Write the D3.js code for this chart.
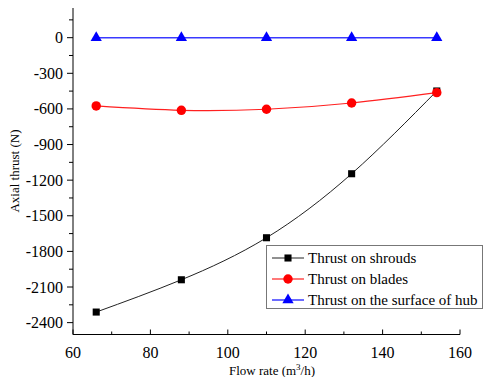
<!DOCTYPE html>
<html><head><meta charset="utf-8">
<script src="https://cdn.jsdelivr.net/npm/d3@7"></script>
<style>body{margin:0;background:#fff}svg{display:block}text{font-family:"Liberation Serif","Times New Roman",serif}</style>
</head><body>
<svg id="c" width="484" height="377"></svg>
<script>
const flowRates = [66, 88, 110, 132, 154];
const shrouds = [-2311, -2039, -1685, -1146, -449];
const blades = [-575, -612, -603, -550, -463];
const hub = [0, 0, 0, 0, 0];
const xTicks = [60, 80, 100, 120, 140, 160];
const yTicks = [0, -300, -600, -900, -1200, -1500, -1800, -2100, -2400];
const seriesNames = ["Thrust on shrouds", "Thrust on blades", "Thrust on the surface of hub"];

const svg = d3.select("#c");
const x = d3.scaleLinear().domain([60, 160]).range([73, 460]);
const y = d3.scaleLinear().domain([-2500, 250]).range([334.5, 8]);

// axes
const xAxis = svg.append("g").attr("transform", "translate(0,334.5)");
xAxis.append("line").attr("x1", 73).attr("x2", 460).attr("stroke", "#000");
xAxis.selectAll(".mj").data(xTicks).join("line").attr("x1", d => x(d)).attr("x2", d => x(d)).attr("y1", 0).attr("y2", -5).attr("stroke", "#000");
xAxis.selectAll(".mn").data(d3.range(70, 160, 20)).join("line").attr("x1", d => x(d)).attr("x2", d => x(d)).attr("y1", 0).attr("y2", -3).attr("stroke", "#000");
xAxis.selectAll("text").data(xTicks).join("text").attr("x", d => x(d)).attr("y", 23.5).attr("text-anchor", "middle").attr("font-size", 16).text(d => d);

const yAxis = svg.append("g").attr("transform", "translate(73,0)");
yAxis.append("line").attr("y1", 8).attr("y2", 334.5).attr("stroke", "#000");
yAxis.selectAll(".mj").data(yTicks).join("line").attr("y1", d => y(d)).attr("y2", d => y(d)).attr("x1", 0).attr("x2", -6).attr("stroke", "#000");
yAxis.selectAll(".mn").data(d3.range(-2250, 250, 300)).join("line").attr("y1", d => y(d)).attr("y2", d => y(d)).attr("x1", 0).attr("x2", -4).attr("stroke", "#000");
yAxis.selectAll("text").data(yTicks).join("text").attr("x", -10).attr("y", d => y(d) + 5.5).attr("text-anchor", "end").attr("font-size", 16).text(d => d);

svg.append("text").attr("x", 272).attr("y", 374.5).attr("text-anchor", "middle").attr("font-size", 13)
  .html('Flow rate (m<tspan baseline-shift="super" font-size="9">3</tspan>/h)');
svg.append("text").attr("transform", "translate(19,171) rotate(-90)").attr("text-anchor", "middle").attr("font-size", 13).text("Axial thrust (N)");

const line = d3.line().x((d, i) => x(flowRates[i])).y(d => y(d)).curve(d3.curveNatural);
const series = [
  {vals: shrouds, color: "#000", lineColor: "#222", w: 1, sym: d3.symbolSquare, size: 50},
  {vals: blades, color: "#ff0000", lineColor: "#ff2020", w: 1.2, sym: d3.symbolCircle, size: 70},
  {vals: hub, color: "#0000ff", lineColor: "#3a3aff", w: 1.5, sym: d3.symbolTriangle, size: 55}
];
series.forEach(s => {
  svg.append("path").attr("d", line(s.vals)).attr("fill", "none").attr("stroke", s.lineColor).attr("stroke-width", s.w);
});
series.forEach(s => {
  svg.append("g").selectAll("path").data(s.vals).join("path")
    .attr("transform", (d, i) => `translate(${x(flowRates[i])},${y(d)})`)
    .attr("d", d3.symbol().type(s.sym).size(s.size)).attr("fill", s.color);
});

// legend
const lg = svg.append("g");
lg.append("rect").attr("x", 266.5).attr("y", 245.5).attr("width", 216).attr("height", 63).attr("fill", "#fff").attr("stroke", "#777");
series.forEach((s, i) => {
  const yy = 258 + i * 21;
  lg.append("line").attr("x1", 272).attr("x2", 304).attr("y1", yy).attr("y2", yy).attr("stroke", s.lineColor).attr("stroke-width", s.w);
  lg.append("path").attr("transform", `translate(288,${yy})`).attr("d", d3.symbol().type(s.sym).size(s.size)).attr("fill", s.color);
  lg.append("text").attr("x", 308).attr("y", yy + 5).attr("font-size", 15).text(seriesNames[i]);
});
</script>
</body></html>
